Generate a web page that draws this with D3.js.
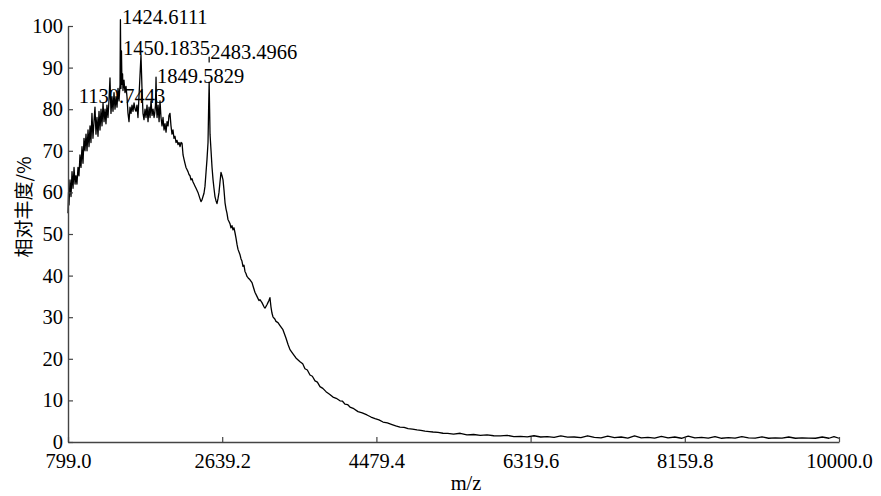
<!doctype html>
<html lang="zh">
<head>
  <meta charset="utf-8">
  <title>MALDI spectrum</title>
  <script src="https://d3js.org/d3.v7.min.js"></script>
  <style>
    body { margin: 0; background: #fff; }
    text { font-family: "Liberation Serif", "DejaVu Serif", serif; fill: #000; }
  </style>
</head>
<body>
<svg id="chart" width="881" height="496"></svg>
<script>
// spectrum: m/z and relative abundance (%)
var mz = [
  799, 805, 811, 823, 835, 847, 859, 871, 883, 894,
  906, 918, 930, 942, 954, 966, 978, 990, 1002, 1014,
  1026, 1038, 1050, 1062, 1073, 1085, 1097, 1109, 1121, 1133,
  1145, 1157, 1169, 1181, 1193, 1205, 1217, 1229, 1241, 1252,
  1264, 1276, 1288, 1300, 1312, 1324, 1336, 1348, 1360, 1372,
  1384, 1396, 1408, 1420, 1424.6, 1431, 1437, 1443, 1450.2, 1455,
  1467, 1479, 1491, 1503, 1515, 1527, 1539, 1551, 1563, 1575,
  1587, 1599, 1610, 1622, 1634, 1646, 1658, 1670, 1682, 1694,
  1706, 1718, 1730, 1742, 1754, 1766, 1778, 1790, 1802, 1814,
  1826, 1834, 1843, 1849.6, 1856, 1862, 1874, 1886, 1897, 1909,
  1921, 1933, 1945, 1957, 1969, 1981, 1993, 2004, 2016, 2028,
  2040, 2052, 2064, 2076, 2088, 2100, 2112, 2124, 2136, 2148,
  2160, 2172, 2183, 2195, 2207, 2219, 2231, 2243, 2255, 2267,
  2279, 2291, 2303, 2315, 2327, 2350, 2374, 2386, 2398, 2410,
  2422, 2434, 2446, 2458, 2470, 2477, 2483.5, 2489, 2494, 2506,
  2518, 2530, 2541, 2553, 2565, 2577, 2589, 2601, 2613, 2625,
  2637, 2649, 2661, 2673, 2685, 2696, 2708, 2720, 2732, 2744,
  2756, 2768, 2780, 2792, 2804, 2816, 2828, 2852, 2864, 2875,
  2887, 2899, 2911, 2923, 2935, 2947, 2971, 2995, 3007, 3030,
  3054, 3078, 3090, 3114, 3138, 3150, 3162, 3173, 3185, 3197,
  3209, 3221, 3233, 3245, 3269, 3281, 3305, 3329, 3364, 3400,
  3424, 3448, 3484, 3519, 3568, 3600, 3627, 3655, 3687, 3715,
  3747, 3775, 3806, 3840, 3878, 3920, 3961, 4000, 4045, 4075,
  4104, 4135, 4164, 4210, 4260, 4310, 4367, 4415, 4463, 4510,
  4558, 4610, 4666, 4710, 4761, 4810, 4857, 4910, 4964, 5010,
  5059, 5110, 5155, 5215, 5274, 5330, 5400, 5480, 5560, 5640,
  5720, 5800, 5880, 5960, 6040, 6120, 6200, 6280, 6360, 6440,
  6520, 6600, 6680, 6760, 6840, 6920, 7000, 7080, 7160, 7240,
  7320, 7400, 7480, 7560, 7640, 7720, 7800, 7880, 7960, 8040,
  8120, 8200, 8280, 8360, 8440, 8520, 8600, 8680, 8760, 8840,
  8920, 9000, 9080, 9160, 9240, 9320, 9400, 9480, 9560, 9640,
  9720, 9800, 9880, 9940, 10000
];
var pct = [
  55, 60, 57, 63, 59, 65, 61, 66, 62, 64,
  62, 66, 64, 69, 66, 71, 67, 73, 70, 74,
  70, 75, 71, 76, 72, 79, 73, 77, 80.5, 74,
  78, 73.5, 79.5, 75, 80, 76, 81.5, 77, 80, 76.5,
  81, 78, 82, 87.5, 79, 83, 79.5, 84, 80, 83,
  80.5, 85, 82, 86, 101.5, 85, 94, 86, 88.5, 84.5,
  87, 84, 85.5, 83, 79, 77, 80.5, 79, 81, 79.5,
  81.5, 80, 79.5, 81, 78, 83, 88, 93, 85, 79,
  77.5, 80, 78, 81, 77, 80.5, 78, 82, 78.5, 80,
  78, 79, 81, 87.7, 80, 78, 81, 77, 82, 78,
  76, 78, 75, 76.5, 74.5, 77, 76, 78.5, 79, 76,
  74, 75, 73, 73.5, 72, 72.5, 71.5, 72, 71, 72,
  71.8, 69, 68, 67, 66, 65.5, 65, 64.3, 64, 63,
  63.3, 62.5, 62, 61.5, 61, 60, 58.5, 57.8, 58.2, 59,
  59.8, 61.5, 64.8, 68, 72, 80, 86.5, 80, 74, 70,
  66, 63, 61, 59, 58, 57.3, 58.5, 60, 62.5, 64.8,
  64, 63, 60.5, 57.5, 56, 55, 53.5, 53, 52.5, 51.5,
  52, 51, 51.5, 50.3, 49, 47.5, 46.3, 45, 44, 43.5,
  42.2, 42.5, 41, 40.5, 39.8, 39.5, 39, 38.3, 37.5, 36,
  35, 34, 34.2, 33.5, 32.5, 32.2, 32.6, 33, 33.5, 34,
  34.7, 32.5, 31, 30.1, 29.5, 29, 28.7, 28, 27, 25,
  23.5, 22.2, 21.2, 20.2, 19.3, 18.8, 17.6, 17.3, 16.1, 15.8,
  14.7, 14.4, 13.3, 12.9, 12.1, 11.5, 10.8, 10.5, 9.9, 9.8,
  9.1, 9.0, 8.4, 8.0, 7.3, 7.0, 6.5, 6.0, 5.6, 5.3,
  4.8, 4.6, 4.2, 3.9, 3.6, 3.5, 3.2, 3.1, 2.9, 2.8,
  2.6, 2.5, 2.4, 2.3, 2.1, 2.05, 1.9, 2.1, 1.7, 1.8,
  1.6, 1.7, 1.5, 1.45, 1.6, 1.3, 1.35, 1.25, 1.5, 1.2,
  1.3, 1.1, 1.45, 1.15, 1.2, 1.05, 1.5, 1.1, 1.0, 1.4,
  1.05, 1.2, 0.95, 1.45, 1.0, 1.1, 0.95, 1.35, 1.0, 1.2,
  0.9, 1.4, 1.0, 1.1, 0.95, 1.3, 0.9, 1.05, 0.95, 1.3,
  1.0, 0.95, 1.25, 0.9, 1.0, 0.95, 1.2, 0.9, 1.0, 0.95,
  0.9, 1.2, 0.9, 1.3, 0.9
];

// labelled peaks
var peakMz = [1130.7443, 1424.6111, 1450.1835, 1849.5829, 2483.4966];
var labelLevel = [81.4, 100.5, 93, 86.3, 92];

var xMajor = [799.0, 2639.2, 4479.4, 6319.6, 8159.8, 10000.0];
var xMinor = [1719.1, 3559.3, 5399.5, 7239.7, 9079.9];
var yMajor = [0, 10, 20, 30, 40, 50, 60, 70, 80, 90, 100];
var yMinor = [5, 15, 25, 35, 45, 55, 65, 75, 85, 95];

var svg = d3.select("#chart");

var x = d3.scaleLinear().domain([799, 10000]).range([68, 839]);
var y = d3.scaleLinear().domain([0, 100]).range([442, 26]);

var spectrum = mz.map(function(d, i) { return [d, pct[i]]; });

// trace
var line = d3.line()
    .x(function(d) { return x(d[0]); })
    .y(function(d) { return y(d[1]); });

svg.append("path")
    .datum(spectrum)
    .attr("fill", "none")
    .attr("stroke", "#000")
    .attr("stroke-width", 1.3)
    .attr("stroke-linejoin", "round")
    .attr("d", line);

// axes, ticks point inward
var gx = svg.append("g").attr("transform", "translate(0,442)");
gx.call(d3.axisBottom(x).tickValues(xMinor).tickSize(-4).tickFormat(""));
gx.call(d3.axisBottom(x).tickValues(xMajor).tickSize(-5).tickSizeOuter(0)
    .tickFormat(function(d) { return d.toFixed(1); }));

var gy = svg.append("g").attr("transform", "translate(68,0)");
gy.call(d3.axisLeft(y).tickValues(yMinor).tickSize(-4).tickFormat(""));
gy.call(d3.axisLeft(y).tickValues(yMajor).tickSize(-5).tickSizeOuter(0).tickPadding(5));

svg.selectAll(".domain").attr("stroke", "#444").attr("stroke-width", 1.4);
svg.selectAll(".tick line").attr("stroke", "#444").attr("stroke-width", 1.2);
svg.selectAll(".tick text")
    .style("font-family", "Liberation Serif")
    .style("font-size", "20.5px")
    .attr("fill", "#000");
gx.selectAll(".tick text").attr("y", 26).attr("dy", 0);

// peak labels
var dxLabel = [-17, 1.6, 0.4, 1, 1];
svg.selectAll(".peak")
    .data(peakMz)
    .enter().append("text")
    .attr("class", "peak")
    .attr("x", function(d, i) { return x(d) + dxLabel[i]; })
    .attr("y", function(d, i) { return y(labelLevel[i]); })
    .style("font-size", "20.5px")
    .text(function(d) { return d.toFixed(4); });

// short leader above the 2483 peak
svg.append("line")
    .attr("x1", x(2483.4966)).attr("x2", x(2483.4966))
    .attr("y1", y(92.6)).attr("y2", y(91.2))
    .attr("stroke", "#000").attr("stroke-width", 1.2);

// axis titles
svg.append("text")
    .attr("transform", "translate(22,207) rotate(-90)")
    .attr("text-anchor", "middle")
    .attr("dominant-baseline", "central")
    .style("font-family", "'Noto Sans CJK SC', sans-serif")
    .style("font-size", "19px")
    .text("相对丰度/%");

svg.append("text")
    .attr("x", 466)
    .attr("y", 490)
    .attr("text-anchor", "middle")
    .style("font-size", "20.5px")
    .text("m/z");
</script>
</body>
</html>
